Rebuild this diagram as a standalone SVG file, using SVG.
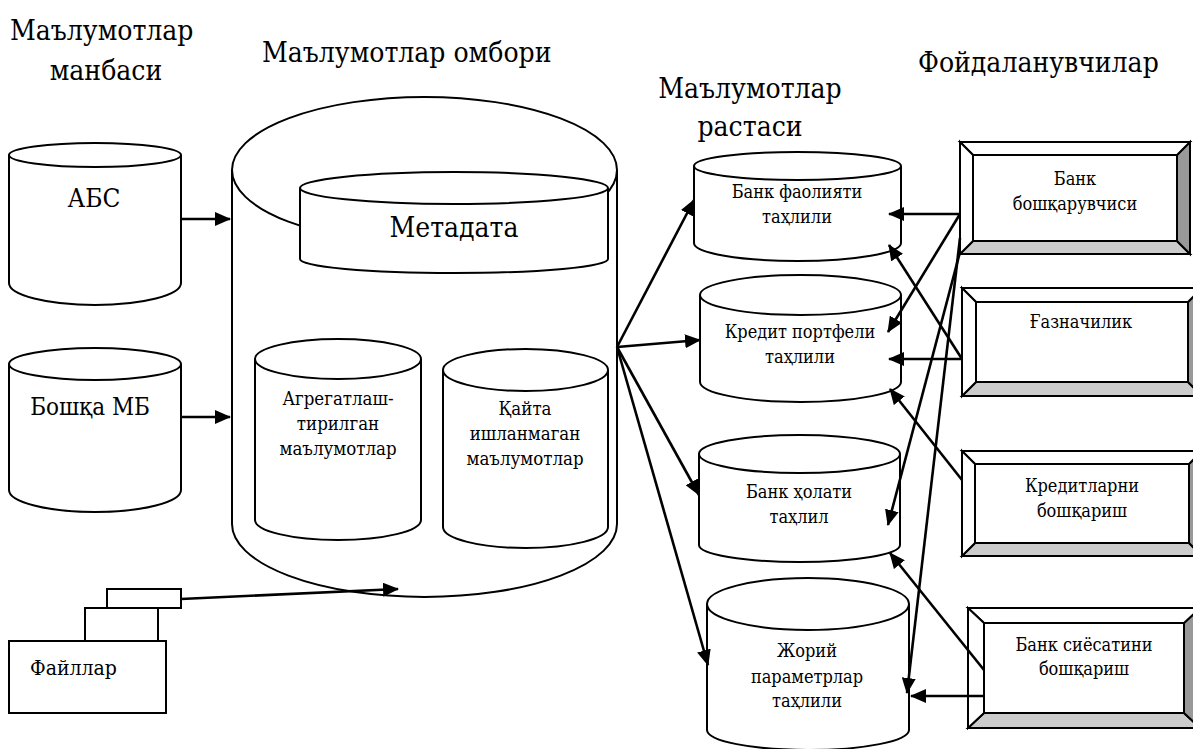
<svg xmlns="http://www.w3.org/2000/svg" width="1193" height="749" viewBox="0 0 1193 749">
<style>
text{font-family:"DejaVu Serif Condensed","DejaVu Serif",serif;font-stretch:condensed;fill:#000}
.h{font-size:28px}
.s{font-size:18px}
.m{font-size:18.5px}
.c{text-anchor:middle}
.cyl{fill:#fff;stroke:#000;stroke-width:2}
.bx{stroke:#000;stroke-width:2;stroke-linejoin:miter}
.w{fill:#fff}.g1{fill:#cccccc}.g2{fill:#999999}
.ln{fill:none;stroke:#000;stroke-width:2.6}
.fr{fill:#fff;stroke:#000;stroke-width:2}
</style>
<defs>
<marker id="ah" markerUnits="userSpaceOnUse" markerWidth="16" markerHeight="14" refX="15" refY="7" orient="auto">
<path d="M0,0 L16,7 L0,14 z" fill="#000"/>
</marker>
</defs>
<rect width="1193" height="749" fill="#fff"/>

<g id="headings">
<text class="h" x="10" y="40">Маълумотлар</text>
<text class="h c" x="106" y="80">манбаси</text>
<text class="h" x="262" y="62">Маълумотлар омбори</text>
<text class="h c" x="750" y="98">Маълумотлар</text>
<text class="h c" x="750" y="136">растаси</text>
<text class="h" x="918" y="72">Фойдаланувчилар</text>
</g>

<g id="src-abs">
<path class="cyl" d="M9,155 L9,283 A86,22 0 0 0 181,283 L181,155"/>
<ellipse class="cyl" cx="95" cy="155" rx="86" ry="12"/>
<text class="c" style="font-size:26px" x="94" y="207">АБС</text>
</g>

<g id="src-other">
<path class="cyl" d="M9,364 L9,490 A86,22 0 0 0 181,490 L181,364"/>
<ellipse class="cyl" cx="95" cy="364" rx="86" ry="16"/>
<text class="c" style="font-size:24px" x="90" y="415">Бошқа МБ</text>
</g>

<g id="src-files">
<rect class="fr" x="107" y="589" width="74" height="19"/>
<rect class="fr" x="85" y="608" width="73" height="33"/>
<rect class="fr" x="9" y="641" width="157" height="72"/>
<text style="font-size:21px" x="30" y="675">Файллар</text>
</g>

<g id="warehouse">
<path class="cyl" d="M232,170 L232,524 A192.5,73 0 0 0 617,524 L617,170"/>
<ellipse class="cyl" cx="424.5" cy="170" rx="192.5" ry="73"/>
</g>

<g id="metadata">
<path class="cyl" d="M300,188 L300,259 A154,14 0 0 0 608,259 L608,188"/>
<ellipse class="cyl" cx="454" cy="188" rx="154" ry="16"/>
<text class="c" style="font-size:28px" x="454" y="237">Метадата</text>
</g>

<g id="aggregated">
<path class="cyl" d="M255,359 L255,520 A83,20 0 0 0 421,520 L421,359"/>
<ellipse class="cyl" cx="338" cy="359" rx="83" ry="20"/>
<text class="m c" x="338" y="405">Агрегатлаш-</text>
<text class="m c" x="338" y="430">тирилган</text>
<text class="m c" x="338" y="455">маълумотлар</text>
</g>

<g id="raw">
<path class="cyl" d="M443,370 L443,527 A82.5,21 0 0 0 608,527 L608,370"/>
<ellipse class="cyl" cx="525.5" cy="370" rx="82.5" ry="21"/>
<text class="m c" x="525" y="415">Қайта</text>
<text class="m c" x="525" y="440">ишланмаган</text>
<text class="m c" x="525" y="465">маълумотлар</text>
</g>

<g id="mart-activity">
<path class="cyl" d="M694,166 L694,243 A103.5,18 0 0 0 901,243 L901,166"/>
<ellipse class="cyl" cx="797.5" cy="166" rx="103.5" ry="14"/>
<text class="s c" x="797" y="198">Банк фаолияти</text>
<text class="s c" x="797" y="223">таҳлили</text>
</g>

<g id="mart-credit">
<path class="cyl" d="M700,295 L700,382 A100.5,20 0 0 0 901,382 L901,295"/>
<ellipse class="cyl" cx="800.5" cy="295" rx="100.5" ry="20"/>
<text class="s c" x="800" y="338">Кредит портфели</text>
<text class="s c" x="800" y="363">таҳлили</text>
</g>

<g id="mart-state">
<path class="cyl" d="M699,454 L699,545 A100.5,17 0 0 0 900,545 L900,454"/>
<ellipse class="cyl" cx="799.5" cy="454" rx="100.5" ry="19"/>
<text class="s c" x="799" y="498">Банк ҳолати</text>
<text class="s c" x="799" y="523">таҳлил</text>
</g>

<g id="mart-current">
<path class="cyl" d="M707,604 L707,730 A101,20 0 0 0 909,730 L909,604"/>
<ellipse class="cyl" cx="808" cy="604" rx="101" ry="26"/>
<text class="s c" x="807" y="657">Жорий</text>
<text class="s c" x="807" y="683">параметрлар</text>
<text class="s c" x="807" y="707">таҳлили</text>
</g>

<g id="user-manager">
<rect class="bx w" x="960" y="142" width="230" height="112"/>
<polygon class="bx g1" points="960,254 1190,254 1177,241 973,241"/>
<polygon class="bx g2" points="1190,142 1190,254 1177,241 1177,155"/>
<polygon class="bx w" points="960,142 1190,142 1177,155 973,155"/>
<polygon class="bx w" points="960,142 973,155 973,241 960,254"/>
<rect class="bx w" x="973" y="155" width="204" height="86"/>
<text class="s c" x="1075" y="185">Банк</text>
<text class="s c" x="1075" y="210">бошқарувчиси</text>
</g>

<g id="user-treasury">
<rect class="bx w" x="962" y="288" width="240" height="108"/>
<polygon class="bx g1" points="962,396 1202,396 1188,382 976,382"/>
<polygon class="bx g2" points="1202,288 1202,396 1188,382 1188,302"/>
<polygon class="bx w" points="962,288 1202,288 1188,302 976,302"/>
<polygon class="bx w" points="962,288 976,302 976,382 962,396"/>
<rect class="bx w" x="976" y="302" width="212" height="80"/>
<text class="s c" x="1081" y="328">Ғазначилик</text>
</g>

<g id="user-credits">
<rect class="bx w" x="962" y="451" width="240" height="105"/>
<polygon class="bx g1" points="962,556 1202,556 1189,543 975,543"/>
<polygon class="bx g2" points="1202,451 1202,556 1189,543 1189,464"/>
<polygon class="bx w" points="962,451 1202,451 1189,464 975,464"/>
<polygon class="bx w" points="962,451 975,464 975,543 962,556"/>
<rect class="bx w" x="975" y="464" width="214" height="79"/>
<text class="s c" x="1082" y="492">Кредитларни</text>
<text class="s c" x="1082" y="517">бошқариш</text>
</g>

<g id="user-policy">
<rect class="bx w" x="968" y="608" width="232" height="120"/>
<polygon class="bx g1" points="968,728 1200,728 1184,713 984,713"/>
<polygon class="bx g2" points="1200,608 1200,728 1184,713 1184,623"/>
<polygon class="bx w" points="968,608 1200,608 1184,623 984,623"/>
<polygon class="bx w" points="968,608 984,623 984,713 968,728"/>
<rect class="bx w" x="984" y="623" width="200" height="90"/>
<text class="s c" x="1084" y="651">Банк сиёсатини</text>
<text class="s c" x="1084" y="675">бошқариш</text>
</g>

<g id="connectors" class="ln">
<line x1="181" y1="219" x2="230" y2="219" marker-end="url(#ah)"/>
<line x1="181" y1="417" x2="230" y2="417" marker-end="url(#ah)"/>
<line x1="181" y1="599" x2="398" y2="589" marker-end="url(#ah)"/>
<line x1="617" y1="347" x2="694" y2="200" marker-end="url(#ah)"/>
<line x1="617" y1="347" x2="700" y2="340" marker-end="url(#ah)"/>
<line x1="617" y1="347" x2="699" y2="495" marker-end="url(#ah)"/>
<line x1="617" y1="347" x2="708" y2="665" marker-end="url(#ah)"/>
<line x1="960" y1="214" x2="889" y2="214" marker-end="url(#ah)"/>
<line x1="960" y1="214" x2="888" y2="332" marker-end="url(#ah)"/>
<line x1="960" y1="238" x2="907" y2="693" marker-end="url(#ah)"/>
<line x1="960" y1="252" x2="888" y2="525" marker-end="url(#ah)"/>
<line x1="962" y1="359" x2="889" y2="359" marker-end="url(#ah)"/>
<line x1="962" y1="359" x2="889" y2="245" marker-end="url(#ah)"/>
<line x1="962" y1="480" x2="890" y2="389" marker-end="url(#ah)"/>
<line x1="984" y1="670" x2="890" y2="553" marker-end="url(#ah)"/>
<line x1="984" y1="696" x2="911" y2="696" marker-end="url(#ah)"/>
</g>
</svg>
